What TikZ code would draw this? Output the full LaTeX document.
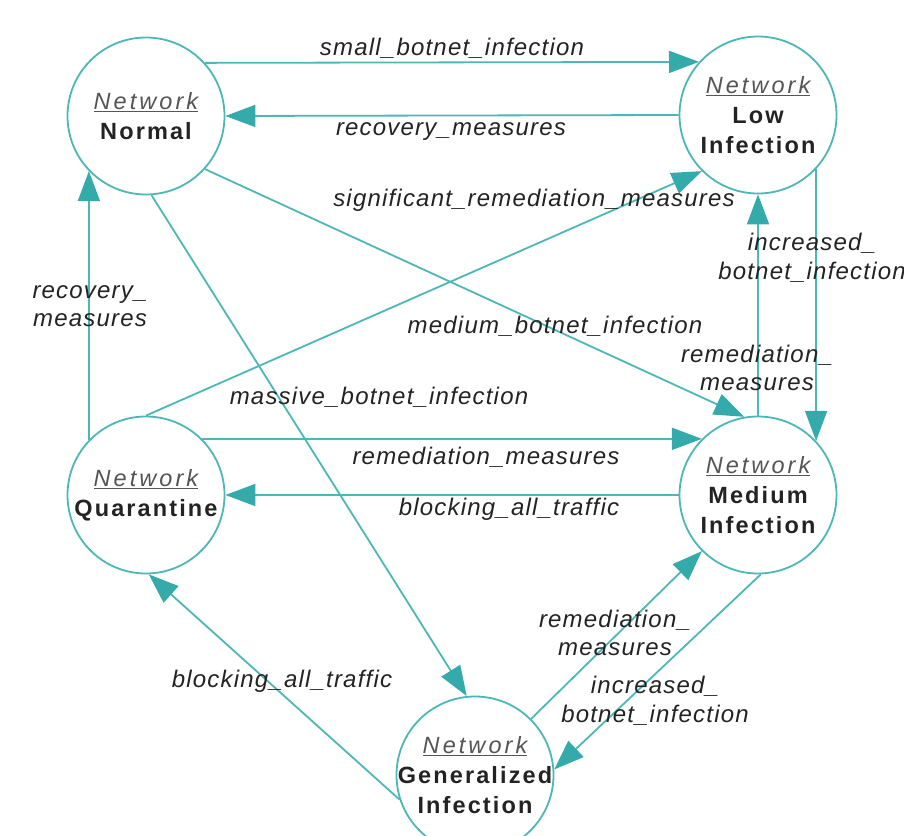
\documentclass[tikz,border=0pt]{standalone}
\usepackage{fontspec}
\setmainfont{Liberation Sans}
\newfontfamily\lblf{Liberation Sans}[LetterSpace=5]
\newfontfamily\nodef{Liberation Sans}[LetterSpace=9]
\newfontfamily\netf{Liberation Sans}[LetterSpace=13]
\usetikzlibrary{arrows.meta}
\definecolor{tealline}{RGB}{77,183,183}
\definecolor{tealtip}{RGB}{52,170,170}
\definecolor{lbltext}{RGB}{35,35,35}
\definecolor{nettext}{RGB}{85,85,85}
\newcommand{\netw}{{\netf\mdseries\itshape\color{nettext}\underline{Network}}}
\tikzset{
  state/.style={circle, draw=tealline, line width=1.8pt, fill=white, minimum size=157pt, inner sep=0pt},
  statetext/.style={align=center, inner sep=0pt, font=\fontsize{23.5}{30}\selectfont\nodef\bfseries, text=lbltext},
  edge/.style={draw=tealline, line width=1.8pt, -{Triangle[length=30pt,width=22pt,color=tealtip]}},
  lbl/.style={font=\fontsize{24}{28.5}\selectfont\lblf\itshape, text=lbltext, align=center, inner sep=0pt}
}
\begin{document}
\begin{tikzpicture}[x=1pt,y=-1pt]
\useasboundingbox (0,0) rectangle (904,835);
\node[state, label={[statetext]center:{\netw\\Normal}}] (normal) at (146,116) {};
\node[state, label={[statetext]center:{\netw\\Low\\Infection}}] (low) at (758,115) {};
\node[state, label={[statetext]center:{\netw\\Quarantine}}] (quar) at (146,495) {};
\node[state, label={[statetext]center:{\netw\\Medium\\Infection}}] (med) at (758,495) {};
\node[state, label={[statetext]center:{\netw\\Generalized\\Infection}}] (gen) at (475,775) {};

\draw[edge] (normal.42) -- (low.138);
\draw[edge] (low.180) -- (normal.0);
\draw[edge] (quar.90) -- (low.225);
\draw[edge] (normal.-42) -- (med.100);
\draw[edge] (normal.-86) -- (gen.96);
\draw[edge] (quar.136) -- (normal.224);
\draw[edge] (med.90) -- (low.270);
\draw[edge] (low.-43) -- (med.43);
\draw[edge] (quar.45) -- (med.135);
\draw[edge] (med.180) -- (quar.0);
\draw[edge] (gen.45) -- (med.225);
\draw[edge] (med.-88) -- (gen.4);
\draw[edge] (gen.198) -- (quar.-88);

\node[lbl] (l1) at (452,48) {small\_botnet\_infection};
\node[lbl] (l2) at (451,132) {recovery\_measures};
\node[lbl] (l3) at (534,200) {significant\_remediation\_measures};
\node[lbl] (l4) at (812,258) {increased\_\\botnet\_infection};
\node[lbl] (l5) at (90,306) {recovery\_\\measures};
\node[lbl] (l6) at (555,326) {medium\_botnet\_infection};
\node[lbl] (l7) at (757,368) {remediation\_\\measures};
\node[lbl] (l8) at (379,397) {massive\_botnet\_infection};
\node[lbl] (l9) at (486,457) {remediation\_measures};
\node[lbl] (l10) at (509,509) {blocking\_all\_traffic};
\node[lbl] (l11) at (615,633) {remediation\_\\measures};
\node[lbl] (l12) at (655,701) {increased\_\\botnet\_infection};
\node[lbl] (l13) at (282,681) {blocking\_all\_traffic};
\end{tikzpicture}
\end{document}
